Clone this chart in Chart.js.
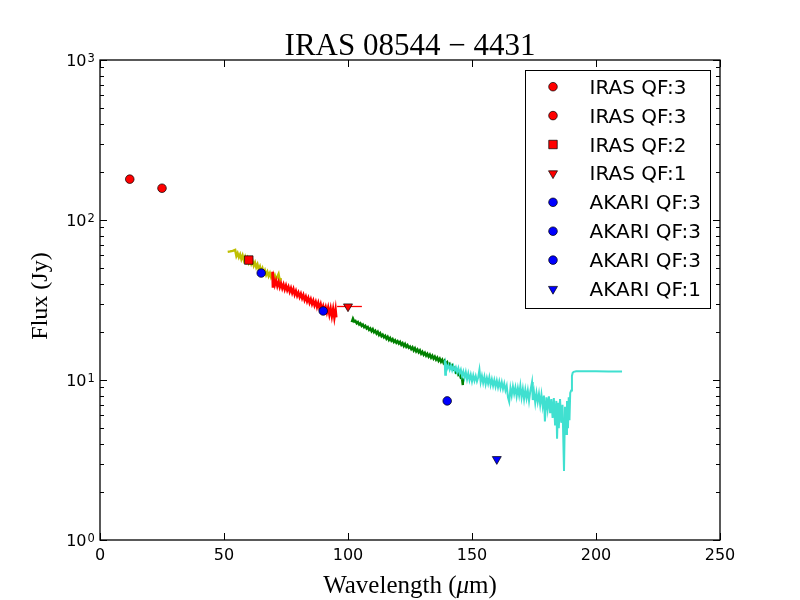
<!DOCTYPE html>
<html>
<head>
<meta charset="utf-8">
<script src="https://cdn.jsdelivr.net/npm/chart.js@4.4.1/dist/chart.umd.min.js"></script>
<style>
html, body { margin: 0; padding: 0; background: #fff; }
canvas { display: block; }
</style>
</head>
<body>
<canvas id="sed" width="800" height="600" style="width:800px;height:600px"></canvas>
<script>
// photometry (one legend entry per point)
var photLabels = ['IRAS QF:3', 'IRAS QF:3', 'IRAS QF:2', 'IRAS QF:1', 'AKARI QF:3', 'AKARI QF:3', 'AKARI QF:3', 'AKARI QF:1'];
var photWave = [12, 25, 60, 100, 65, 90, 140, 160];
var photFlux = [180, 158, 56.2, 28.8, 46.6, 27.0, 7.4, 3.2];

// horizontal bar drawn through the IRAS 100 um point
var barWave = [95.6, 105.6];
var barFlux = [28.8, 28.8];

// spectra
var yelWave = [51.5, 52, 52.5, 53, 53.5, 54, 54.5, 55, 55.5, 56, 56.5, 57, 57.5, 58, 58.5, 59, 59.5, 60, 60.5, 61, 61.5, 62,
    62.5, 63, 63.5, 64, 64.5, 65, 65.5, 66, 66.5, 67, 67.5, 68, 68.5, 69, 69.5, 70, 70.5, 71, 71.5, 72, 72.5, 73];
var yelFlux = [63.2, 63.4, 63.6, 63.9, 64.2, 64.6, 65.0, 59.5, 62.0, 58.5, 61.0, 57.0, 60.0, 56.0, 58.8, 55.2, 57.8, 54.2, 56.8, 53.2, 55.6, 51.8,
    54.2, 50.6, 52.8, 49.0, 51.2, 47.6, 49.8, 46.4, 48.4, 45.4, 47.4, 44.6, 46.6, 43.8, 45.6, 43.0, 45.0, 42.4, 44.2, 46.0, 41.6, 43.4];

var redWave = [69.5, 69.7, 70, 70.5, 71, 71.5, 72, 72.5, 73, 73.5, 74, 74.5, 75, 75.5, 76, 76.5, 77, 77.5, 78, 78.5, 79, 79.5,
    80, 80.5, 81, 81.5, 82, 82.5, 83, 83.5, 84, 84.5, 85, 85.5, 86, 86.5, 87, 87.5, 88, 88.5, 89, 89.5,
    90, 90.5, 91, 91.5, 92, 92.5, 93, 93.5, 94, 94.5, 95, 95.3];
var redFlux = [47.5, 37.8, 43.0, 39.2, 41.8, 38.6, 41.0, 38.0, 40.2, 37.4, 39.6, 36.8, 39.0, 36.4, 38.2, 35.6, 37.6, 35.0, 37.0, 34.2, 36.0, 33.6,
    35.2, 33.0, 34.6, 32.4, 34.0, 31.6, 33.2, 31.0, 32.6, 30.4, 32.0, 29.8, 31.4, 29.2, 30.8, 28.6, 30.4, 28.0, 29.8, 27.4,
    29.0, 27.0, 28.6, 26.4, 28.4, 25.6, 28.0, 25.0, 27.8, 24.4, 27.6, 24.6];

var grnWave = [101.5, 102, 102.5, 103, 103.5, 104, 104.5, 105, 105.5, 106, 106.5, 107, 107.5, 108, 108.5, 109, 109.5,
    110, 110.5, 111, 111.5, 112, 112.5, 113, 113.5, 114, 114.5, 115, 115.5, 116, 116.5, 117, 117.5, 118, 118.5, 119, 119.5,
    120, 120.5, 121, 121.5, 122, 122.5, 123, 123.5, 124, 124.5, 125, 125.5, 126, 126.5, 127, 127.5, 128, 128.5, 129, 129.5,
    130, 130.5, 131, 131.5, 132, 132.5, 133, 133.5, 134, 134.5, 135, 135.5, 136, 136.5, 137, 137.5, 138, 138.5, 139, 139.5,
    140, 140.5, 141, 141.5, 142, 142.5, 143, 143.5, 144, 144.5, 145, 145.5, 146, 146.3];
var grnFlux = [23.0, 24.2, 23.2, 23.4, 22.6, 23.0, 22.2, 22.6, 21.8, 22.2, 21.4, 21.8, 21.0, 21.4, 20.6, 21.0, 20.2,
    20.8, 19.9, 20.3, 19.5, 20.0, 19.1, 19.6, 18.8, 19.2, 18.5, 18.9, 18.1, 18.6, 17.8, 18.3, 17.6, 18.0, 17.3, 17.7, 17.1,
    17.5, 16.9, 17.3, 16.6, 17.0, 16.3, 16.8, 16.1, 16.5, 15.9, 16.2, 15.6, 16.0, 15.3, 15.8, 15.1, 15.5, 14.9, 15.3, 14.6,
    15.0, 14.4, 14.8, 14.2, 14.6, 14.0, 14.4, 13.8, 14.2, 13.6, 14.0, 13.4, 13.8, 13.2, 13.6, 13.0, 13.4, 12.8, 13.2, 12.6,
    12.9, 12.3, 12.6, 12.0, 12.3, 11.7, 11.9, 11.2, 11.4, 10.8, 11.0, 10.3, 10.2, 9.3];

var cyaWave = [139.0, 139.2, 139.5, 140, 140.5, 141, 141.5, 142, 142.5, 143, 143.5, 144, 144.5, 145, 145.5, 146, 146.5,
    147, 147.5, 148, 148.5, 149, 149.5, 150, 150.5, 151, 151.5, 152, 152.5, 153, 153.5, 154, 154.5, 155, 155.5, 156, 156.5,
    157, 157.5, 158, 158.5, 159, 159.5, 160, 160.5, 161, 161.5, 162, 162.5, 163, 163.5, 164, 164.5, 165, 165.5, 166, 166.5,
    167, 167.5, 168, 168.5, 169, 169.5, 170, 170.5, 171, 171.5, 172, 172.5, 173, 173.5, 174.2, 174.5, 175, 175.5, 176, 176.5,
    177, 177.5, 178, 178.5, 179, 179.4, 180, 180.5, 181, 181.5, 182, 182.5, 183, 183.5, 184, 184.3, 184.7, 185, 185.5, 186,
    186.5, 187.1, 187.5, 188, 188.3, 188.7, 189, 189.3, 189.6, 190.0, 190.3, 190.6, 191, 192, 195, 200, 205, 210.5];
var cyaFlux = [13.3, 10.8, 12.6, 11.8, 12.4, 11.6, 12.3, 11.5, 12.2, 11.4, 12.0, 11.2, 11.9, 11.0, 11.6, 10.6, 11.3,
    10.3, 11.2, 10.1, 11.0, 10.0, 10.8, 9.8, 10.7, 9.9, 10.6, 9.8, 10.4, 11.6, 9.7, 10.6, 9.6, 10.5, 9.4, 10.3, 9.5,
    10.4, 9.3, 10.1, 9.2, 10.0, 9.1, 9.9, 9.0, 9.8, 8.9, 9.7, 8.8, 9.5, 8.6, 9.2, 7.8, 7.3, 8.9, 8.0, 9.1,
    8.2, 9.0, 7.9, 8.9, 8.0, 9.2, 7.8, 8.8, 7.6, 8.7, 7.7, 8.6, 7.4, 8.5, 9.7, 7.5, 8.4, 7.2, 8.3, 7.3,
    8.2, 7.0, 8.1, 6.9, 8.0, 5.5, 7.8, 6.6, 7.9, 6.2, 7.6, 5.8, 7.7, 5.2, 7.4, 4.3, 7.2, 5.0, 7.6, 5.4,
    7.0, 2.7, 6.8, 4.6, 7.4, 5.0, 7.8, 5.6, 8.3, 8.6, 10.6, 11.1, 11.25, 11.35, 11.35, 11.35, 11.3, 11.3];

// axes
var xTickVals = [0, 50, 100, 150, 200, 250];
var yTickVals = [1, 10, 100, 1000];
var yTickExp = ['0', '1', '2', '3'];

function pairs(xs, ys) {
    return xs.map(function(x, i) { return {x: x, y: ys[i]}; });
}

var datasets = [];
photLabels.forEach(function(lab, i) {
    var qf = lab.slice(-1);
    datasets.push({
        label: lab,
        inLegend: true,
        data: [{x: photWave[i], y: photFlux[i]}],
        backgroundColor: lab.indexOf('IRAS') === 0 ? '#ff0000' : '#0000ff',
        borderColor: '#000000',
        borderWidth: 0.7,
        pointStyle: qf === '3' ? 'circle' : (qf === '2' ? 'rect' : 'triangle'),
        pointRotation: qf === '1' ? 180 : 0,
        pointRadius: qf === '3' ? 4.3 : (qf === '2' ? 6 : 5.2),
        showLine: false
    });
});

function spectrum(xs, ys, color, width) {
    return {
        label: '',
        data: pairs(xs, ys),
        borderColor: color,
        backgroundColor: color,
        borderWidth: width,
        pointRadius: 0,
        showLine: true,
        tension: 0,
        fill: false
    };
}
datasets.push(spectrum(barWave, barFlux, '#ff0000', 1.3));
datasets.push(spectrum(cyaWave, cyaFlux, '#40e0d0', 2.0));
datasets.push(spectrum(grnWave, grnFlux, '#008000', 2.4));
datasets.push(spectrum(redWave, redFlux, '#ff0000', 2.4));
datasets.push(spectrum(yelWave, yelFlux, '#bfbf00', 2.4));

var decor = {
    id: 'decor',
    afterDraw: function(chart) {
        var ctx = chart.ctx, a = chart.chartArea, xs = chart.scales.x, ys = chart.scales.y;
        ctx.save();
        ctx.strokeStyle = '#000';
        ctx.fillStyle = '#000';

        // inward ticks on all four sides
        ctx.lineWidth = 1;
        ctx.beginPath();
        xTickVals.forEach(function(v) {
            var p = Math.round(xs.getPixelForValue(v)) + 0.5;
            ctx.moveTo(p, a.bottom); ctx.lineTo(p, a.bottom - 7);
            ctx.moveTo(p, a.top); ctx.lineTo(p, a.top + 7);
        });
        for (var d = 1; d <= 1000; d *= 10) {
            for (var m = 1; m < 10; m++) {
                if (d === 1000 && m > 1) break;
                var len = m === 1 ? 7 : 4;
                var p = Math.round(ys.getPixelForValue(d * m)) + 0.5;
                ctx.moveTo(a.left, p); ctx.lineTo(a.left + len, p);
                ctx.moveTo(a.right, p); ctx.lineTo(a.right - len, p);
            }
        }
        ctx.stroke();

        // frame
        ctx.lineWidth = 1.3;
        ctx.strokeRect(a.left, a.top, a.right - a.left, a.bottom - a.top);

        // tick labels
        ctx.textBaseline = 'alphabetic';
        ctx.font = '16px "DejaVu Sans"';
        ctx.textAlign = 'center';
        xTickVals.forEach(function(v) {
            ctx.fillText(String(v), xs.getPixelForValue(v), a.bottom + 20);
        });
        yTickVals.forEach(function(v, i) {
            var p = ys.getPixelForValue(v);
            ctx.font = '16px "DejaVu Sans"';
            ctx.textAlign = 'right';
            ctx.fillText('10', a.left - 13.5, p + 5.5);
            ctx.font = '11.5px "DejaVu Sans"';
            ctx.textAlign = 'left';
            ctx.fillText(yTickExp[i], a.left - 12.5, p + 1.5);
        });

        // title
        var cx = (a.left + a.right) / 2;
        ctx.font = '31px "Liberation Serif"';
        ctx.textAlign = 'center';
        ctx.fillText('IRAS 08544 \u2212 4431', cx, 55);

        // x label with italic mu
        var f = '25px "Liberation Serif"', fi = 'italic 25px "Liberation Serif"';
        ctx.textAlign = 'left';
        ctx.font = f; var w1 = ctx.measureText('Wavelength (').width;
        ctx.font = fi; var w2 = ctx.measureText('\u03bc').width;
        ctx.font = f; var w3 = ctx.measureText('m)').width;
        var sx = cx - (w1 + w2 + w3) / 2;
        ctx.fillText('Wavelength (', sx, 593);
        ctx.font = fi; ctx.fillText('\u03bc', sx + w1, 593);
        ctx.font = f; ctx.fillText('m)', sx + w1 + w2, 593);

        // y label
        ctx.save();
        ctx.translate(47, 296);
        ctx.rotate(-Math.PI / 2);
        ctx.textAlign = 'center';
        ctx.font = '24px "Liberation Serif"';
        ctx.fillText('Flux (Jy)', 0, 0);
        ctx.restore();

        // legend box
        var lx = 525.5, ly = 70.5, lw = 185, lh = 238;
        ctx.fillStyle = '#fff';
        ctx.fillRect(lx, ly, lw, lh);
        ctx.lineWidth = 1;
        ctx.strokeStyle = '#000';
        ctx.strokeRect(lx, ly, lw, lh);
        var row = 0;
        chart.data.datasets.forEach(function(ds) {
            if (!ds.inLegend) return;
            var y = 86.7 + row * 28.9;
            ctx.fillStyle = ds.backgroundColor;
            ctx.strokeStyle = ds.borderColor;
            ctx.lineWidth = ds.borderWidth;
            Chart.helpers.drawPoint(ctx, {
                pointStyle: ds.pointStyle,
                rotation: ds.pointRotation,
                radius: ds.pointRadius,
                borderWidth: ds.borderWidth
            }, 553, y);
            ctx.fillStyle = '#000';
            ctx.font = '20px "DejaVu Sans"';
            ctx.textAlign = 'left';
            ctx.fillText(ds.label, 589.5, y + 7);
            row++;
        });
        ctx.restore();
    }
};

new Chart(document.getElementById('sed'), {
    type: 'scatter',
    data: { datasets: datasets },
    options: {
        responsive: false,
        devicePixelRatio: 1,
        animation: false,
        events: [],
        layout: { padding: { left: 100, right: 80, top: 60, bottom: 60 } },
        scales: {
            x: { type: 'linear', min: 0, max: 250, display: false },
            y: { type: 'logarithmic', min: 1, max: 1000, display: false }
        },
        plugins: {
            legend: { display: false },
            tooltip: { enabled: false },
            title: { display: false }
        }
    },
    plugins: [decor]
});
</script>
</body>
</html>
